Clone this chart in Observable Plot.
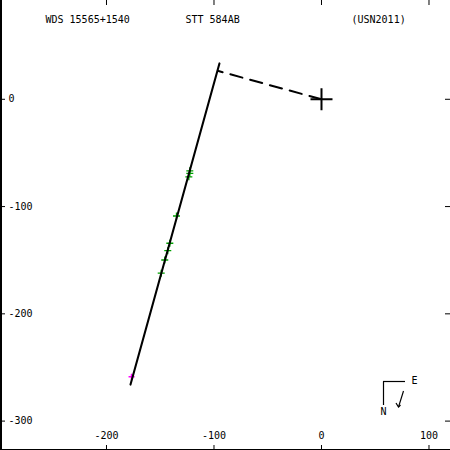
<!DOCTYPE html>
<html>
<head>
<meta charset="utf-8">
<script src="https://cdn.jsdelivr.net/npm/d3@7"></script>
<script src="https://cdn.jsdelivr.net/npm/@observablehq/plot@0.6"></script>
<style>
  html, body { margin: 0; padding: 0; background: #fff; }
  #chart svg { display: block; }
</style>
</head>
<body>
<div id="chart"></div>
<script>
// ---- data ----
const titleTexts = ["WDS 15565+1540", "STT 584AB", "(USN2011)"];
const xTicks = [-200, -100, 0, 100];
const yTicks = [0, -100, -200, -300];
// orbit (nearly edge-on, drawn as a line)
const orbitX = [-177.7, -94.9];
const orbitY = [-266.0, 33.5];
// dashed line from primary to orbit
const nodeX = [0, -95.8];
const nodeY = [0, 26.3];
// primary star
const primaryX = [0];
const primaryY = [0];
// observations (green)
const obsX = [-122.5, -122.5, -123.4, -134.9, -141.1, -143.0, -145.8, -149.1];
const obsY = [-66.7, -69.1, -72.3, -108.8, -134.2, -141.1, -149.8, -162.1];
// other observation (magenta)
const magX = [-176.7];
const magY = [-258.6];

const xDomain = [-298.6, 120.0];
const yDomain = [-327.4, 92.1];

const orbit = orbitX.map((x, i) => ({x, y: orbitY[i]}));
const node = nodeX.map((x, i) => ({x, y: nodeY[i]}));
const primary = primaryX.map((x, i) => ({x, y: primaryY[i]}));
const obs = obsX.map((x, i) => ({x, y: obsY[i]}));
const mag = magX.map((x, i) => ({x, y: magY[i]}));

const plusSymbol = {
  draw(context, size) {
    const s = Math.sqrt(size / Math.PI);
    context.moveTo(-s, 0); context.lineTo(s, 0);
    context.moveTo(0, -s); context.lineTo(0, s);
  }
};

const FONT = "DejaVu Sans Mono, monospace";

function compass(index, scales, values, dims) {
  const W = dims.width, H = dims.height;
  const g = d3.create("svg:g").attr("fill", "none").attr("stroke", "#000").attr("stroke-width", 1.2);
  g.append("path").attr("d", `M${W-67},${H-68.5}H${W-45}`);
  g.append("path").attr("d", `M${W-66.5},${H-68.5}V${H-45}`);
  g.append("path").attr("d", `M${W-46.5},${H-59}L${W-51.5},${H-43}`);
  g.append("path").attr("d", `M${W-54},${H-47}L${W-51.5},${H-43}L${W-49.5},${H-45}`);
  return g.node();
}

const chart = Plot.plot({
  width: 450,
  height: 450,
  margin: 0,
  x: {domain: xDomain, axis: null},
  y: {domain: yDomain, axis: null},
  style: {background: "#fff", fontFamily: FONT, fontSize: "10px", color: "#000"},
  marks: [
    // frame lines (left, bottom)
    Plot.ruleX([xDomain[0]], {stroke: "#000", strokeWidth: 3}),
    Plot.ruleY([yDomain[0]], {stroke: "#000", strokeWidth: 3}),
    // tick marks
    Plot.tickY(yTicks, {y: d => d, insetRight: 445, stroke: "#000"}),
    Plot.tickY(yTicks, {y: d => d, insetLeft: 445, stroke: "#000"}),
    Plot.tickX(xTicks, {x: d => d, insetBottom: 445, stroke: "#000"}),
    Plot.tickX(xTicks, {x: d => d, insetTop: 445, stroke: "#000"}),
    // tick labels
    Plot.text(yTicks, {y: d => d, text: d => String(d), frameAnchor: "left", dx: 8, textAnchor: "start", lineAnchor: "middle", fill: "#000"}),
    Plot.text(xTicks, {x: d => d, text: d => String(d), frameAnchor: "bottom", dy: -12, lineAnchor: "bottom", fill: "#000"}),
    // title texts
    Plot.text([titleTexts[0]], {text: d => d, frameAnchor: "top-left", dx: 45, dy: 22, textAnchor: "start", lineAnchor: "bottom", fill: "#000"}),
    Plot.text([titleTexts[1]], {text: d => d, frameAnchor: "top-left", dx: 185, dy: 22, textAnchor: "start", lineAnchor: "bottom", fill: "#000"}),
    Plot.text([titleTexts[2]], {text: d => d, frameAnchor: "top-left", dx: 351, dy: 22, textAnchor: "start", lineAnchor: "bottom", fill: "#000"}),
    // observations
    Plot.dot(obs, {x: "x", y: "y", symbol: plusSymbol, r: 3.5, fill: "none", stroke: "#00a000", strokeWidth: 1.3}),
    Plot.dot(mag, {x: "x", y: "y", symbol: plusSymbol, r: 3, fill: "none", stroke: "#ff00ff", strokeWidth: 1.5}),
    // orbit and node line
    Plot.line(orbit, {x: "x", y: "y", stroke: "#000", strokeWidth: 2}),
    Plot.line(node, {x: "x", y: "y", stroke: "#000", strokeWidth: 2, strokeDasharray: "12.5,8"}),
    // primary
    Plot.dot(primary, {x: "x", y: "y", symbol: plusSymbol, r: 11, fill: "none", stroke: "#000", strokeWidth: 2}),
    // compass
    compass,
    Plot.text(["E"], {text: d => d, frameAnchor: "bottom-right", dx: -36, dy: -70, textAnchor: "middle", lineAnchor: "middle", fill: "#000"}),
    Plot.text(["N"], {text: d => d, frameAnchor: "bottom-right", dx: -67, dy: -39, textAnchor: "middle", lineAnchor: "middle", fill: "#000"})
  ]
});
document.getElementById("chart").appendChild(chart);
</script>
</body>
</html>
